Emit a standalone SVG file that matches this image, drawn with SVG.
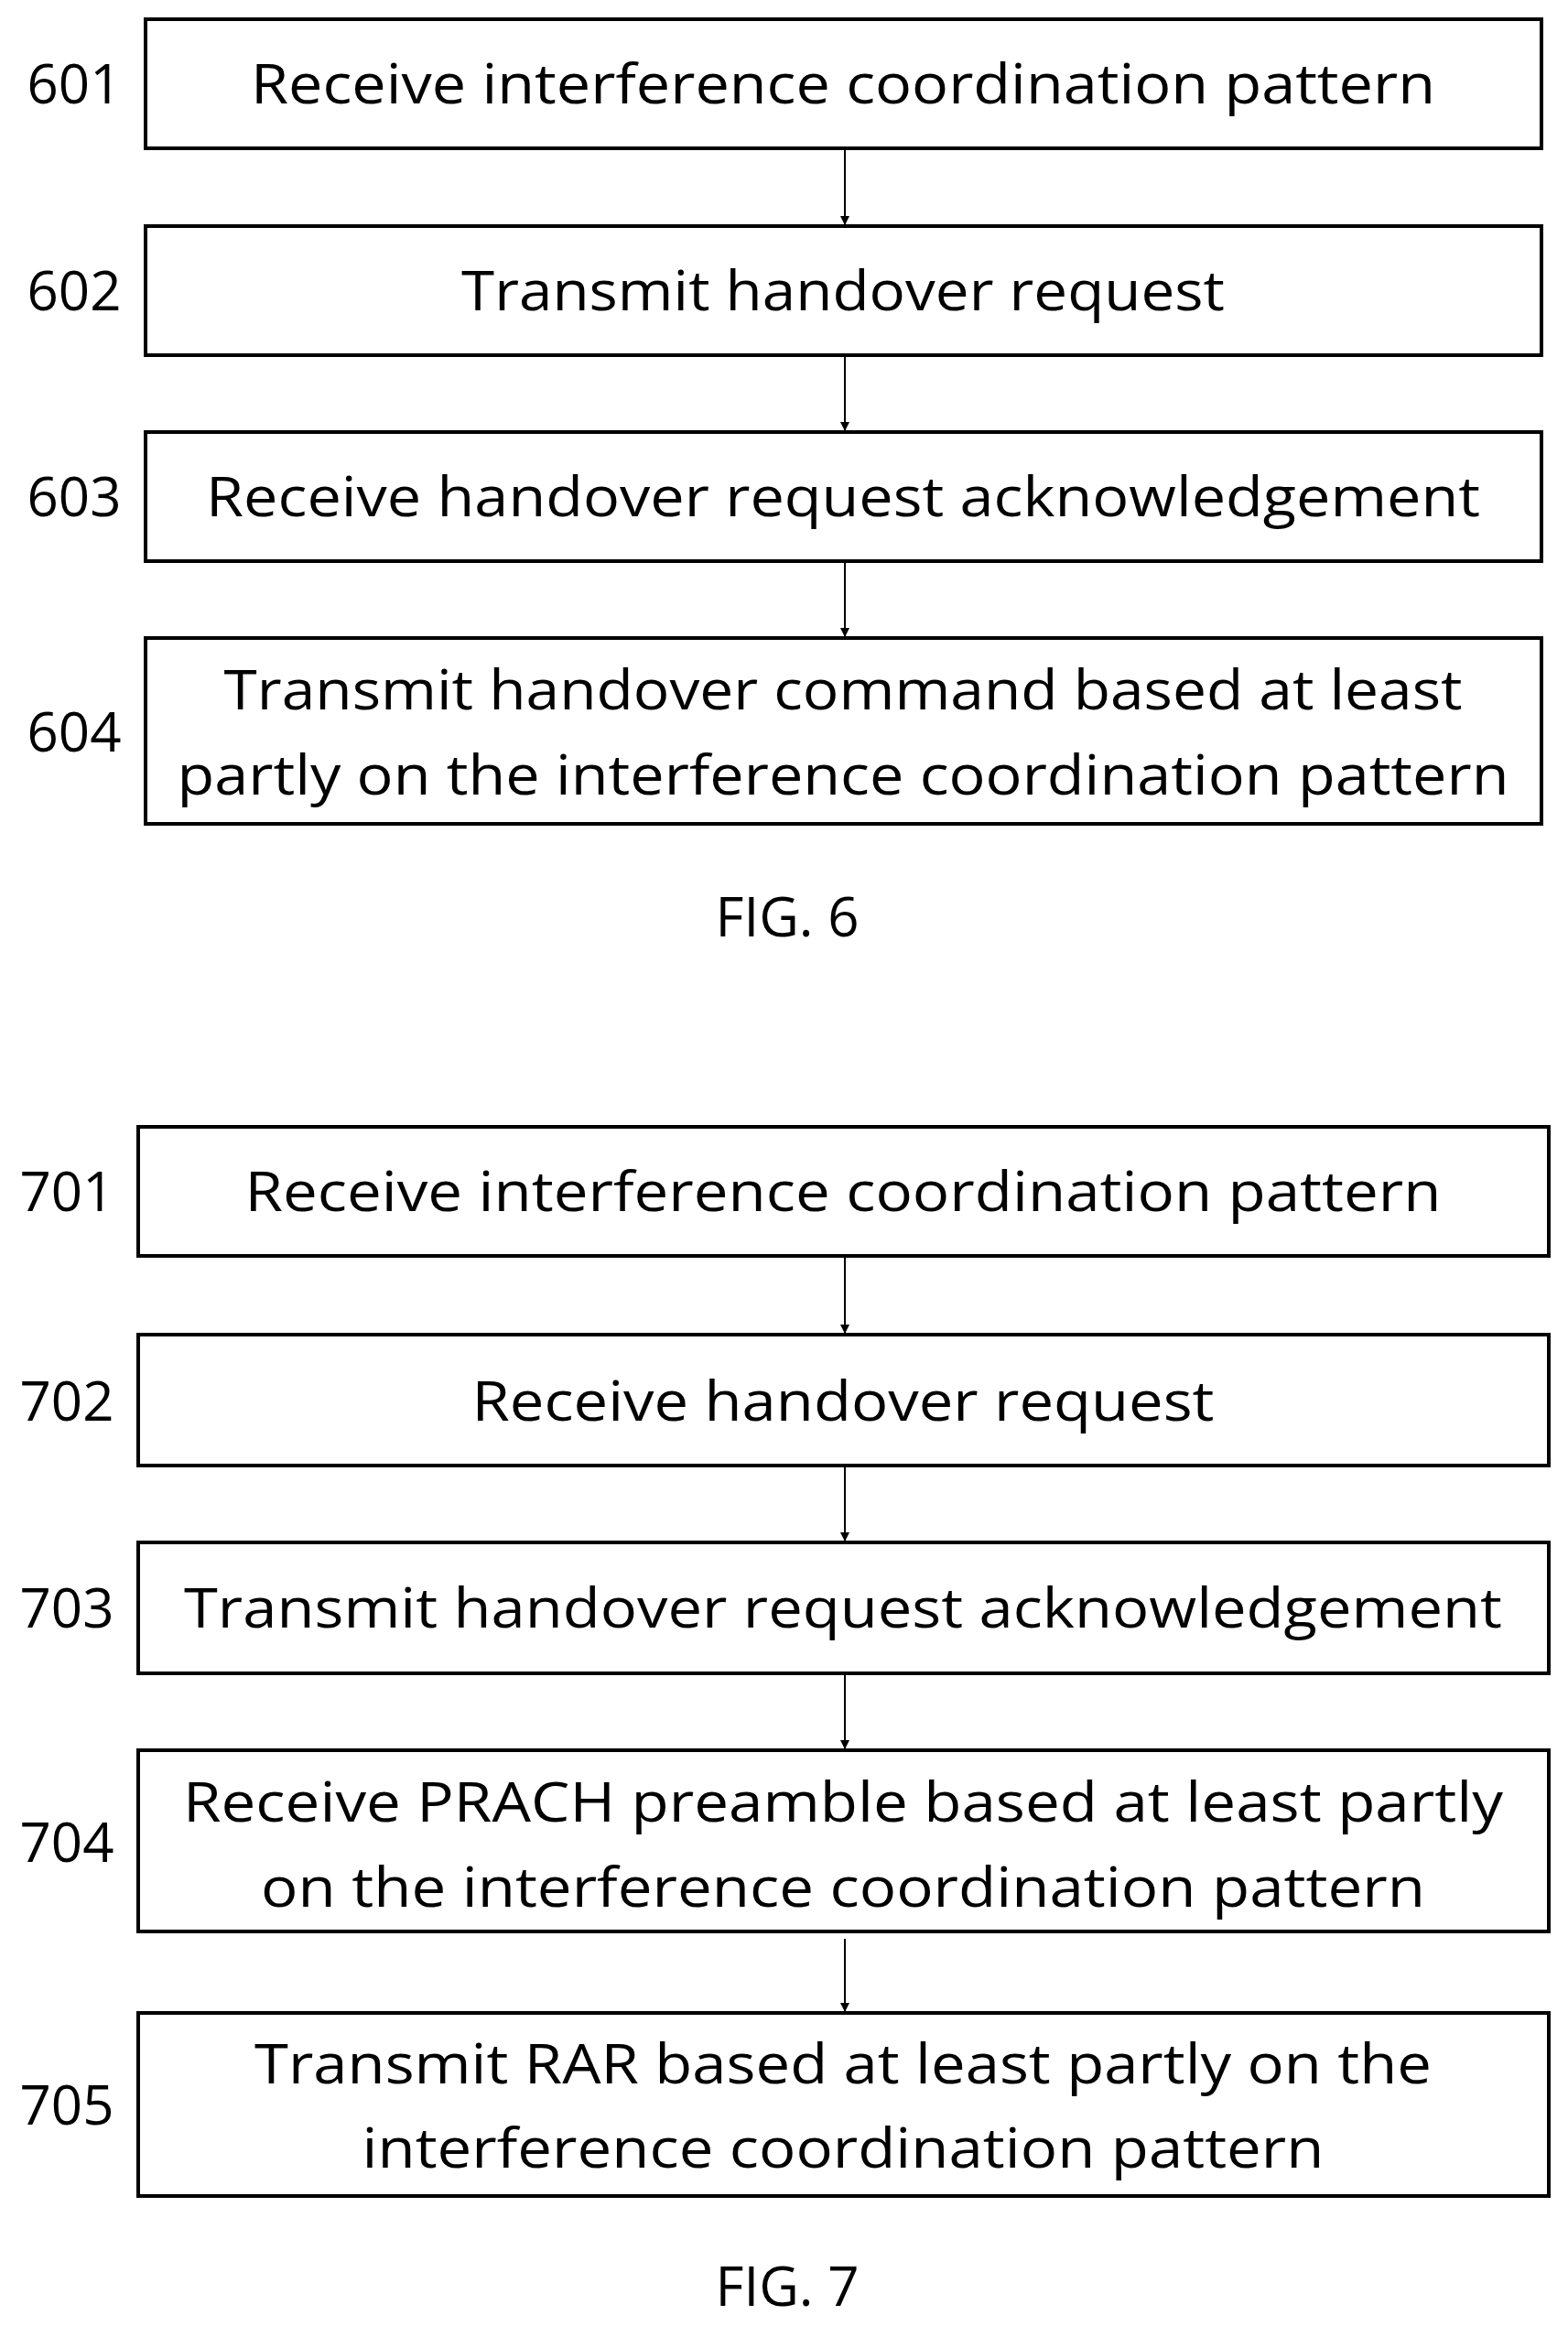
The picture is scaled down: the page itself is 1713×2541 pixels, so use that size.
<svg xmlns="http://www.w3.org/2000/svg" width="1713" height="2541" viewBox="0 0 1713 2541">
<style>
rect{fill:#fff;stroke:#000;stroke-width:4}
text{font-family:"Open Sans","Liberation Sans",sans-serif;font-size:60px;fill:#000;text-anchor:middle}
.c{stroke:#000;stroke-width:2;fill:none;marker-end:url(#a)}
</style>
<defs><marker id="a" markerWidth="10" markerHeight="10" refX="9" refY="5" orient="auto" markerUnits="userSpaceOnUse"><path d="M0,0 L10,5 L0,10 Z" fill="#000"/></marker></defs>
<rect width="1713" height="2541" style="stroke:none"/>
<g id="n601"><rect x="159" y="21" width="1525" height="141"/><text x="921" y="113" textLength="1294" lengthAdjust="spacingAndGlyphs">Receive interference coordination pattern</text><text x="81" y="113">601</text></g>
<g id="n602"><rect x="159" y="247" width="1525" height="141"/><text x="921" y="339" textLength="834" lengthAdjust="spacingAndGlyphs">Transmit handover request</text><text x="81" y="339">602</text></g>
<g id="n603"><rect x="159" y="472" width="1525" height="141"/><text x="921" y="564" textLength="1392" lengthAdjust="spacingAndGlyphs">Receive handover request acknowledgement</text><text x="81" y="564">603</text></g>
<g id="n604"><rect x="159" y="697" width="1525" height="203"/><text x="921" y="775" textLength="1353" lengthAdjust="spacingAndGlyphs">Transmit handover command based at least</text><text x="921" y="868" textLength="1455" lengthAdjust="spacingAndGlyphs">partly on the interference coordination pattern</text><text x="81" y="821">604</text></g>
<text x="860" y="1023">FIG. 6</text>
<g id="n701"><rect x="151" y="1231" width="1541" height="141"/><text x="921" y="1323" textLength="1307" lengthAdjust="spacingAndGlyphs">Receive interference coordination pattern</text><text x="73" y="1323">701</text></g>
<g id="n702"><rect x="151" y="1458" width="1541" height="143"/><text x="921" y="1552" textLength="811" lengthAdjust="spacingAndGlyphs">Receive handover request</text><text x="73" y="1552">702</text></g>
<g id="n703"><rect x="151" y="1685" width="1541" height="143"/><text x="921" y="1778" textLength="1440" lengthAdjust="spacingAndGlyphs">Transmit handover request acknowledgement</text><text x="73" y="1778">703</text></g>
<g id="n704"><rect x="151" y="1912" width="1541" height="198"/><text x="921" y="1990" textLength="1442" lengthAdjust="spacingAndGlyphs">Receive PRACH preamble based at least partly</text><text x="921" y="2083" textLength="1272" lengthAdjust="spacingAndGlyphs">on the interference coordination pattern</text><text x="73" y="2034">704</text></g>
<g id="n705"><rect x="151" y="2199" width="1541" height="200"/><text x="921" y="2276" textLength="1286" lengthAdjust="spacingAndGlyphs">Transmit RAR based at least partly on the</text><text x="921" y="2368" textLength="1051" lengthAdjust="spacingAndGlyphs">interference coordination pattern</text><text x="73" y="2321">705</text></g>
<text x="860" y="2519">FIG. 7</text>
<g id="connectors">
<path class="c" d="M923,162 V245"/>
<path class="c" d="M923,388 V470"/>
<path class="c" d="M923,613 V695"/>
<path class="c" d="M923,1372 V1456"/>
<path class="c" d="M923,1601 V1683"/>
<path class="c" d="M923,1828 V1910"/>
<path class="c" d="M923,2118 V2197"/>
</g>
</svg>
